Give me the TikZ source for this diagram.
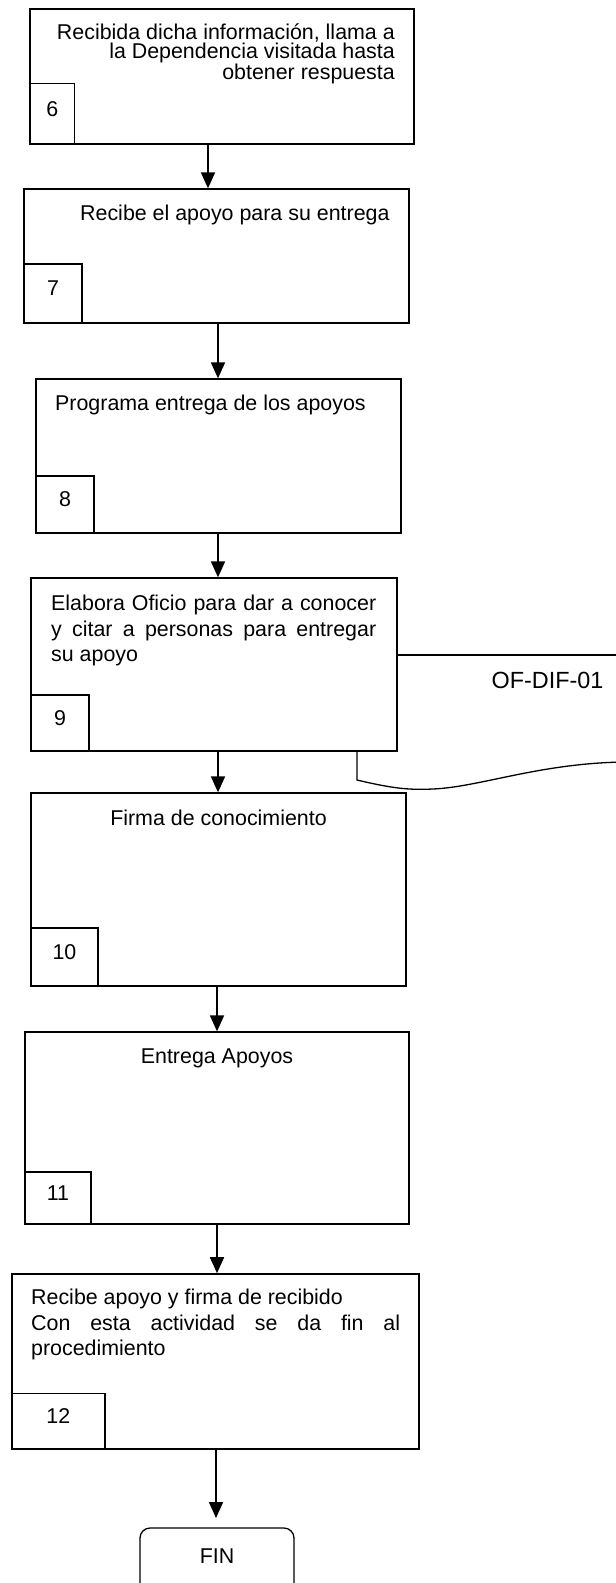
\documentclass[tikz,border=0pt]{standalone}
\usepackage{fontspec}
\setmainfont{Liberation Sans}
\usetikzlibrary{arrows.meta}
\tikzset{
  box/.style={draw, line width=1.3pt, rectangle, inner sep=0pt},
  numbox/.style={draw, line width=1.3pt, rectangle, inner sep=0pt, anchor=south west, text depth=10pt, font=\fontsize{21.4}{25}\selectfont},
  txt/.style={inner sep=0pt, font=\fontsize{21.4}{25.3}\selectfont},
  arr/.style={line width=1.8pt, -{Triangle[width=14pt,length=16pt]}},
  docline/.style={line width=1.3pt}
}
\begin{document}
\begin{tikzpicture}[x=1pt,y=-1pt]
\useasboundingbox (0,0) rectangle (616,1583);
\clip (0,0) rectangle (616,1583);
% main boxes
\node[box, line width=1.8pt, minimum width=384pt, minimum height=135pt] (b6) at (222,76.5) {};
\node[box, minimum width=385pt, minimum height=134pt] (b7) at (216.5,256) {};
\node[box, minimum width=365pt, minimum height=154pt] (b8) at (218.5,456) {};
\node[box, minimum width=366pt, minimum height=173pt] (b9) at (214,664.5) {};
\node[box, minimum width=375pt, minimum height=193pt] (b10) at (218.5,889.5) {};
\node[box, minimum width=384pt, minimum height=192pt] (b11) at (217,1128) {};
\node[box, line width=1.6pt, minimum width=407pt, minimum height=175pt] (b12) at (215.5,1361.5) {};
\node[box, rounded corners=10pt, minimum width=154pt, minimum height=70pt] (fin) at (217,1563) {};
\node[txt, anchor=base] (tfin) at (217,1563.7) {FIN};
% number boxes
\node[numbox, minimum width=45pt, minimum height=61pt] (n6) at (b6.south west) {6};
\node[numbox, minimum width=58pt, minimum height=59pt] (n7) at (b7.south west) {7};
\node[numbox, minimum width=58pt, minimum height=57pt] (n8) at (b8.south west) {8};
\node[numbox, minimum width=58pt, minimum height=56pt] (n9) at (b9.south west) {9};
\node[numbox, minimum width=67pt, minimum height=58pt] (n10) at (b10.south west) {10};
\node[numbox, minimum width=66pt, minimum height=52pt] (n11) at (b11.south west) {11};
\node[numbox, minimum width=93pt, minimum height=56pt] (n12) at (b12.south west) {12};
% texts
\node[txt, font=\fontsize{21.4}{18.3}\selectfont, align=right, anchor=north east] (t6) at (395,24)
  {Recibida dicha información, llama a\\la Dependencia visitada hasta\\obtener respuesta};
\node[txt, anchor=base west] (t7) at (80,220.7) {Recibe el apoyo para su entrega};
\node[txt, anchor=base west] (t8) at (55,410.7) {Programa entrega de los apoyos};
\node[txt, text width=325pt, align=justify, anchor=north west] (t9) at (51,595)
  {Elabora Oficio para dar a conocer\linebreak y citar a personas para entregar\linebreak su apoyo};
\node[txt, anchor=base] (t10) at (218.5,825.7) {Firma de conocimiento};
\node[txt, anchor=base] (t11) at (217,1063.7) {Entrega Apoyos};
\node[txt, text width=369pt, align=justify, anchor=north west] (t12) at (31,1289)
  {Recibe apoyo y firma de recibido\\Con esta actividad se da fin al\linebreak procedimiento};
% document shape
\coordinate (dtop) at (625,655);
\coordinate (dleft) at (357,780);
\coordinate (dright) at (625,762);
\draw[docline] (b9.east |- dtop) -- (dtop);
\draw[docline] (b9.south -| dleft) -- (dleft) .. controls (395,789) and (410,790) .. (433,789)
  .. controls (480,787) and (540,763) .. (dright);
\node[inner sep=0pt, font=\fontsize{23.4}{28}\selectfont, anchor=base] (of) at (547.5,688.4) {OF-DIF-01};
% arrows
\coordinate (a1) at (208,0);
\coordinate (a2) at (218,0);
\coordinate (a3) at (217,0);
\coordinate (a4) at (216,1518);
\draw[arr] (b6.south -| a1) -- (b7.north -| a1);
\draw[arr] (b7.south -| a2) -- (b8.north -| a2);
\draw[arr] (b8.south -| a2) -- (b9.north -| a2);
\draw[arr] (b9.south -| a2) -- (b10.north -| a2);
\draw[arr] (b10.south -| a3) -- (b11.north -| a3);
\draw[arr] (b11.south -| a3) -- (b12.north -| a3);
\draw[arr] (b12.south -| a4) -- (a4);
\end{tikzpicture}
\end{document}
